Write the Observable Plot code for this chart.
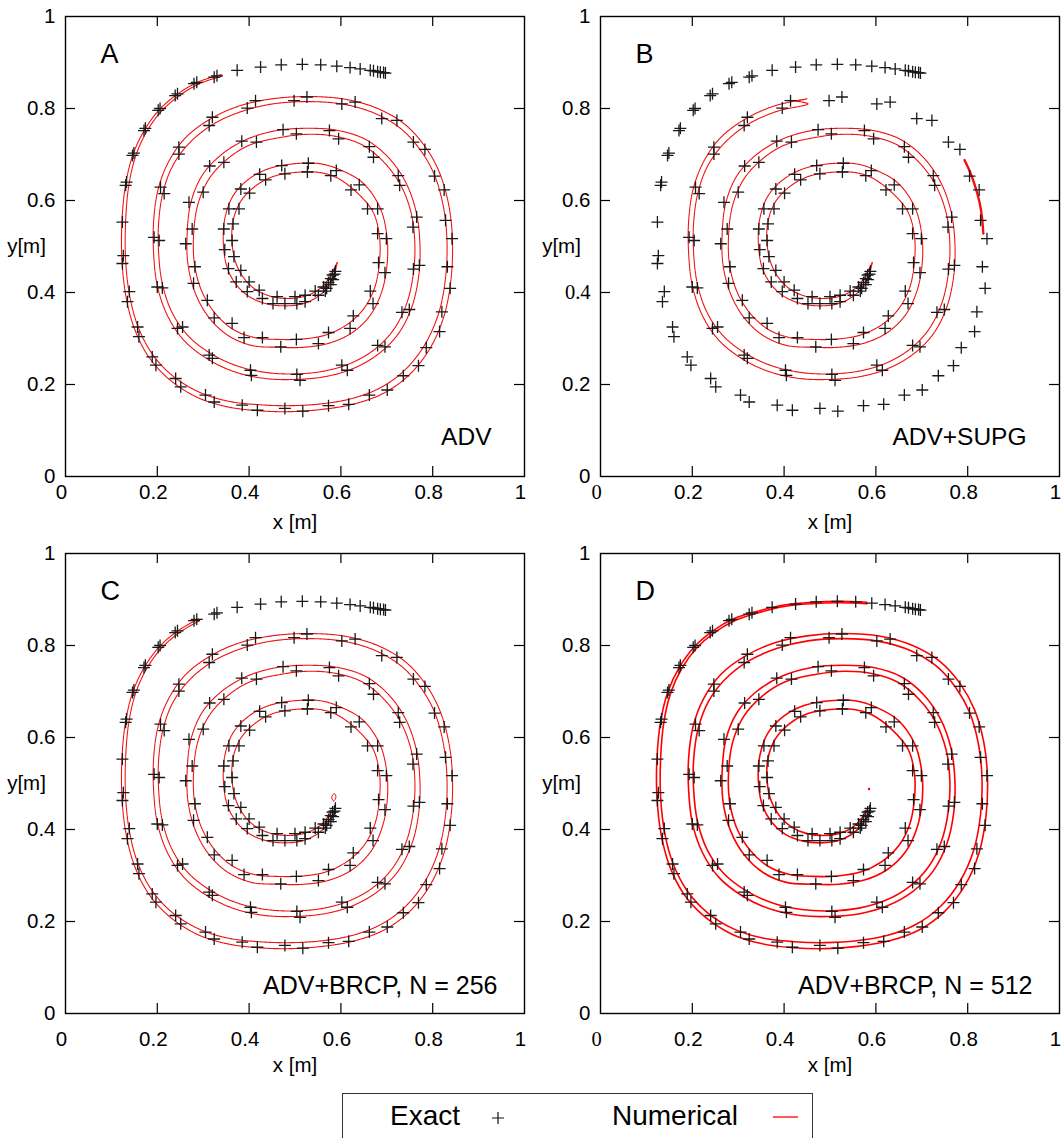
<!DOCTYPE html>
<html><head><meta charset="utf-8">
<script src="https://cdn.jsdelivr.net/npm/d3@7"></script>
<script src="https://cdn.jsdelivr.net/npm/@observablehq/plot@0.6"></script>
<style>
body{margin:0;background:#fff;}
#wrap{position:relative;width:1063px;height:1138px;overflow:hidden;background:#fff;font-family:"Liberation Sans",Arial,sans-serif;}
.panel{position:absolute;}
#legend{position:absolute;left:342px;top:1093px;width:471px;height:70px;border:1px solid #333;box-sizing:border-box;background:#fff;}
#legend span{position:absolute;font-size:28px;line-height:32px;color:#000;}
</style></head><body><div id="wrap"></div>
<script>
// ---- data ----
const panelIds = ["A", "B", "C", "D"];
const methodLabels = ["ADV", "ADV+SUPG", "ADV+BRCP, N = 256", "ADV+BRCP, N = 512"];
const xTicks = [0, 0.2, 0.4, 0.6, 0.8, 1];
const yTicks = [0, 0.2, 0.4, 0.6, 0.8, 1];
const legendLabels = ["Exact", "Numerical"];

// exact interface markers (x, y)
const exactPoints = [
  [0.697,0.877],[0.693,0.878],[0.686,0.879],[0.680,0.880],[0.671,0.882],[0.664,0.883],[0.642,0.886],[0.620,0.889],
  [0.591,0.892],[0.556,0.895],[0.516,0.896],[0.470,0.895],[0.425,0.890],[0.374,0.883],
  [0.324,0.868],[0.330,0.871],[0.280,0.854],[0.286,0.857],[0.239,0.828],[0.244,0.832],[0.202,0.796],[0.206,0.800],
  [0.171,0.752],[0.174,0.757],[0.146,0.698],[0.149,0.703],[0.131,0.633],[0.133,0.640],[0.124,0.553],
  [0.126,0.480],[0.124,0.463],[0.139,0.402],[0.135,0.380],[0.157,0.325],[0.160,0.304],[0.189,0.260],[0.197,0.242],
  [0.240,0.213],[0.251,0.195],[0.305,0.177],[0.324,0.162],[0.385,0.155],[0.418,0.144],[0.478,0.148],[0.517,0.142],
  [0.573,0.154],[0.617,0.157],[0.662,0.177],[0.701,0.188],[0.736,0.219],[0.769,0.241],[0.786,0.280],[0.815,0.315],
  [0.820,0.358],[0.838,0.409],[0.832,0.456],[0.842,0.517],[0.828,0.557],[0.825,0.623],[0.804,0.653],[0.783,0.711],
  [0.758,0.727],[0.722,0.774],[0.689,0.778],[0.631,0.814],[0.602,0.810],[0.526,0.825],[0.498,0.817],[0.414,0.817],
  [0.396,0.801],
  [0.320,0.781],[0.313,0.763],[0.247,0.716],[0.247,0.701],[0.207,0.629],[0.215,0.615],[0.193,0.520],[0.204,0.513],
  [0.200,0.412],[0.211,0.410],[0.244,0.322],[0.255,0.325],[0.313,0.264],[0.320,0.257],[0.403,0.231],[0.405,0.220],
  [0.504,0.222],[0.511,0.209],[0.602,0.242],[0.614,0.231],[0.680,0.285],[0.696,0.282],[0.733,0.357],[0.749,0.363],
  [0.758,0.451],[0.771,0.459],[0.757,0.542],[0.765,0.564],[0.725,0.654],[0.728,0.633],[0.662,0.717],[0.671,0.694],
  [0.575,0.752],[0.595,0.734],[0.503,0.745],[0.474,0.754],[0.416,0.727],[0.384,0.729],[0.345,0.683],[0.314,0.675],
  [0.300,0.618],[0.269,0.596],[0.276,0.538],[0.262,0.506],
  [0.282,0.456],[0.279,0.420],[0.309,0.383],[0.324,0.345],[0.363,0.333],[0.389,0.302],[0.429,0.302],[0.469,0.282],
  [0.503,0.298],[0.551,0.289],[0.573,0.313],[0.620,0.322],[0.627,0.349],[0.670,0.376],[0.664,0.403],[0.696,0.443],
  [0.682,0.465],[0.680,0.528],[0.699,0.517],[0.658,0.582],[0.680,0.582],[0.622,0.623],[0.640,0.634],[0.578,0.654],
  [0.590,0.665],[0.529,0.681],[0.527,0.662],
  [0.471,0.676],[0.478,0.658],[0.423,0.657],[0.436,0.645],[0.382,0.625],[0.401,0.616],[0.356,0.582],[0.378,0.582],
  [0.345,0.538],[0.365,0.549],[0.347,0.493],[0.363,0.513],[0.367,0.478],[0.355,0.452],[0.382,0.448],[0.372,0.423],
  [0.400,0.423],[0.396,0.402],[0.422,0.405],[0.429,0.387],[0.452,0.376],[0.461,0.391],[0.478,0.376],[0.500,0.391],
  [0.504,0.376],[0.522,0.394],[0.522,0.380],[0.544,0.403],[0.551,0.394],[0.562,0.412],[0.569,0.409],[0.566,0.403],
  [0.573,0.422],[0.578,0.417],[0.578,0.430],[0.583,0.428],[0.582,0.438],[0.586,0.440],[0.588,0.446]
];

// numerical interface: outer and inner boundary of the filament, tail -> head
const numOuter = [
  [0.700,0.878],[0.640,0.887],[0.580,0.894],[0.520,0.896],[0.460,0.894],[0.400,0.888],[0.340,0.874],[0.290,0.858],
  [0.245,0.832],[0.205,0.798],[0.172,0.753],[0.147,0.700],[0.131,0.635],[0.123,0.555],[0.123,0.470],[0.132,0.390],
  [0.150,0.322],[0.180,0.262],[0.225,0.212],[0.285,0.173],[0.350,0.152],[0.420,0.143],[0.490,0.141],[0.560,0.146],
  [0.630,0.158],[0.695,0.182],[0.750,0.222],[0.795,0.280],[0.825,0.350],[0.840,0.430],[0.843,0.515],[0.835,0.590],
  [0.815,0.660],[0.785,0.715],[0.740,0.765],[0.680,0.800],[0.610,0.820],[0.530,0.826],[0.450,0.821],[0.380,0.806],
  [0.317,0.778],[0.262,0.737],[0.225,0.685],[0.202,0.625],[0.192,0.555],[0.192,0.485],[0.200,0.415],[0.222,0.350],
  [0.258,0.296],[0.310,0.255],[0.370,0.227],[0.435,0.213],[0.500,0.211],[0.565,0.217],[0.625,0.234],[0.680,0.265],
  [0.725,0.310],[0.755,0.370],[0.770,0.440],[0.772,0.510],[0.764,0.575],[0.742,0.638],[0.705,0.692],[0.655,0.732],
  [0.595,0.752],[0.530,0.757],[0.460,0.752],[0.395,0.733],[0.340,0.700],[0.298,0.655],[0.273,0.595],[0.265,0.525],
  [0.267,0.460],[0.283,0.398],[0.313,0.345],[0.355,0.306],[0.405,0.285],[0.460,0.281],[0.520,0.281],[0.575,0.290],
  [0.625,0.313],[0.665,0.352],[0.690,0.405],[0.701,0.465],[0.700,0.525],[0.685,0.585],[0.648,0.638],[0.600,0.666],
  [0.555,0.680],[0.500,0.680],[0.445,0.670],[0.400,0.647],[0.365,0.610],[0.347,0.560],[0.344,0.505],[0.352,0.455],
  [0.372,0.417],[0.402,0.390],[0.440,0.375],[0.480,0.371],[0.515,0.375],[0.545,0.388],[0.568,0.408],[0.583,0.432],
  [0.592,0.465]
];
const numInner = [
  [0.700,0.877],[0.640,0.885],[0.580,0.891],[0.520,0.893],[0.460,0.891],[0.400,0.885],[0.340,0.870],[0.292,0.854],
  [0.248,0.828],[0.209,0.794],[0.177,0.750],[0.153,0.697],[0.138,0.633],[0.131,0.555],[0.131,0.470],[0.140,0.392],
  [0.158,0.326],[0.188,0.268],[0.232,0.220],[0.290,0.184],[0.353,0.164],[0.422,0.156],[0.490,0.154],[0.558,0.158],
  [0.626,0.170],[0.688,0.194],[0.740,0.232],[0.783,0.287],[0.813,0.355],[0.828,0.432],[0.831,0.515],[0.823,0.588],
  [0.804,0.655],[0.775,0.707],[0.732,0.755],[0.675,0.789],[0.607,0.809],[0.530,0.815],[0.452,0.810],[0.385,0.794],
  [0.322,0.766],[0.271,0.726],[0.235,0.678],[0.213,0.620],[0.203,0.553],[0.203,0.485],[0.211,0.419],[0.232,0.357],
  [0.267,0.306],[0.317,0.267],[0.375,0.240],[0.438,0.226],[0.500,0.223],[0.563,0.229],[0.621,0.246],[0.673,0.276],
  [0.714,0.318],[0.743,0.375],[0.758,0.442],[0.761,0.510],[0.753,0.573],[0.731,0.632],[0.695,0.682],[0.648,0.720],
  [0.591,0.739],[0.530,0.744],[0.468,0.737],[0.400,0.720],[0.350,0.688],[0.312,0.646],[0.288,0.590],[0.279,0.524],
  [0.281,0.462],[0.296,0.405],[0.325,0.356],[0.365,0.320],[0.412,0.302],[0.463,0.298],[0.518,0.299],[0.568,0.308],
  [0.613,0.330],[0.650,0.365],[0.674,0.412],[0.684,0.467],[0.684,0.522],[0.670,0.575],[0.632,0.620],[0.590,0.650],
  [0.553,0.661],[0.500,0.661],[0.452,0.652],[0.412,0.630],[0.381,0.597],[0.365,0.555],[0.363,0.505],[0.372,0.462],
  [0.391,0.428],[0.418,0.404],[0.450,0.391],[0.485,0.387],[0.518,0.391],[0.545,0.402],[0.566,0.420],[0.580,0.442],
  [0.592,0.465]
];
// vertex range of the numerical interface present in each panel
const numStart = [6, 38, 7, 2];
const numEnd = [104, 104, 103, 103];
// detached pieces of the numerical interface
const tipB = [[0.427,0.816]];
const fragmentB = [[0.793,0.688],[0.806,0.660],[0.818,0.625],[0.827,0.590],[0.832,0.555],[0.834,0.528]];
const blobC = [[0.584,0.462],[0.588,0.466],[0.589,0.473],[0.586,0.478],[0.582,0.475],[0.580,0.468],[0.584,0.462]];
const dotD = [[0.585,0.488]];

// ---- drawing ----
const wrap = document.getElementById("wrap");
const plusSym = {draw(ctx, size) {
  const r = Math.sqrt(size / Math.PI);
  ctx.moveTo(-r, 0); ctx.lineTo(r, 0); ctx.moveTo(0, -r); ctx.lineTo(0, r);
}};
const fmt = d => String(d);
const innerX = xTicks.slice(1, -1), innerY = yTicks.slice(1, -1);
const px = d => d[0], py = d => d[1];

panelIds.forEach((id, k) => {
  const left = (k % 2) * 535, top = Math.floor(k / 2) * 537;
  const width = k % 2 ? 528 : 535;
  const mr = width - 65 - 459;
  const lower = k >= 2;
  const solid = id === "D";
  const lineStyle = solid
    ? {stroke: "#ff0000", strokeWidth: 1.6}
    : {stroke: "#f01010", strokeWidth: 1.1, strokeDasharray: "1.4,0.5"};
  const s = numStart[k], e = numEnd[k] + 1;
  let outer = numOuter.slice(s, e), inner = numInner.slice(s, e);
  if (id === "B") { outer = tipB.concat(outer); inner = tipB.concat(inner); }
  const marks = [
    Plot.frame({stroke: "#000", strokeWidth: 1.4}),
    Plot.ruleX(innerX, {x: d => d, insetTop: 450, stroke: "#000", strokeWidth: 1.2}),
    Plot.ruleX(innerX, {x: d => d, insetBottom: 450, stroke: "#000", strokeWidth: 1.2}),
    Plot.ruleY(innerY, {y: d => d, insetRight: 449, stroke: "#000", strokeWidth: 1.2}),
    Plot.ruleY(innerY, {y: d => d, insetLeft: 449, stroke: "#000", strokeWidth: 1.2}),
    Plot.axisX(xTicks, {tickSize: 0, tickPadding: lower ? 18 : 8, dx: -4, tickFormat: fmt, label: null, fontSize: 20.5}),
    Plot.axisY(yTicks, {tickSize: 0, tickPadding: 10, tickFormat: fmt, label: null, fontSize: 20.5}),
    Plot.line(outer, {x: px, y: py, curve: "catmull-rom", ...lineStyle}),
    Plot.line(inner, {x: px, y: py, curve: "catmull-rom", ...lineStyle})
  ];
  if (id === "B") marks.push(Plot.line(fragmentB, {x: px, y: py, curve: "catmull-rom", stroke: "#f01010", strokeWidth: 2.4, strokeDasharray: "1.4,0.4"}));
  if (id === "C") marks.push(Plot.line(blobC, {x: px, y: py, curve: "catmull-rom", stroke: "#f01010", strokeWidth: 1}));
  if (id === "D") marks.push(Plot.dot(dotD, {x: px, y: py, r: 1.2, fill: "#ff0000"}));
  marks.push(
    Plot.dot(exactPoints, {x: px, y: py, symbol: plusSym, r: 6, stroke: "#1a1a1a", strokeWidth: 1.3, fill: "none"}),
    Plot.text([id], {frameAnchor: "top-left", dx: 35, dy: 38, fontSize: 27, textAnchor: "start", lineAnchor: "middle"}),
    Plot.text([methodLabels[k]], {frameAnchor: "bottom-right", dx: lower ? -27 : -33, dy: lower ? -28 : -39, fontSize: lower ? 25 : 24.5, textAnchor: "end", lineAnchor: "middle"}),
    Plot.text(["x [m]"], {frameAnchor: "bottom", dy: lower ? 52 : 46, fontSize: 20.5, textAnchor: "middle", lineAnchor: "middle"}),
    Plot.text(["y[m]"], {frameAnchor: "left", dx: -39, dy: 0, fontSize: 20.5, textAnchor: "middle", lineAnchor: "middle"})
  );
  const svg = Plot.plot({
    width, height: 537,
    marginLeft: 65, marginRight: mr, marginTop: 16, marginBottom: 61,
    x: {domain: [0, 1]},
    y: {domain: [0, 1]},
    style: {fontFamily: "'Liberation Sans', Arial, sans-serif", fontSize: "20.5px", color: "#000", background: "#fff", overflow: "visible"},
    marks
  });
  // a few tick labels of the original use a serif face
  const serifTicks = id === "B" ? [["x", "0"], ["y", "0.4"]] : id === "D" ? [["x", "0"]] : [];
  serifTicks.forEach(([ax, t]) => {
    svg.querySelectorAll(`[aria-label="${ax}-axis tick label"] text`).forEach(el => {
      if (el.textContent === t) el.setAttribute("font-family", "'Liberation Serif', serif");
    });
  });
  const div = document.createElement("div");
  div.className = "panel";
  div.style.left = left + "px";
  div.style.top = top + "px";
  div.appendChild(svg);
  wrap.appendChild(div);
});

// legend
const leg = document.createElement("div");
leg.id = "legend";
leg.innerHTML = `<span style="left:47px;top:6px">${legendLabels[0]}</span>
<svg style="position:absolute;left:148px;top:17px" width="14" height="14"><path d="M1,7H13M7,1V13" stroke="#111" stroke-width="1.2"/></svg>
<span style="left:269px;top:6px">${legendLabels[1]}</span>
<svg style="position:absolute;left:429px;top:21px" width="27" height="4"><path d="M1,2H26" stroke="#ff0000" stroke-width="1.3"/></svg>`;
wrap.appendChild(leg);
</script>
</body></html>
